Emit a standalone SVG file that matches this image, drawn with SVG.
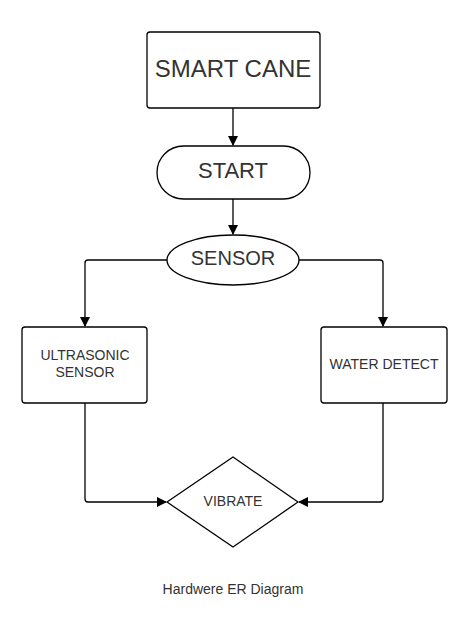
<svg xmlns="http://www.w3.org/2000/svg" width="475" height="623" viewBox="0 0 475 623">
<style>
.s{fill:#fff;stroke:#000;stroke-width:1.3}
.t{font-family:"Liberation Sans",Arial,sans-serif;fill:#333;text-anchor:middle}
.c{fill:none;stroke:#000;stroke-width:1.3}
</style>
<defs>
<marker id="a" markerWidth="10" markerHeight="10" refX="9" refY="5" orient="auto" markerUnits="userSpaceOnUse">
<path d="M0,0 L10,5 L0,10 Z" fill="#000"/>
</marker>
</defs>
<rect width="475" height="623" fill="#fff"/>
<g id="connectors">
<path class="c" d="M233,108 V145" marker-end="url(#a)"/>
<path class="c" d="M233,199 V234" marker-end="url(#a)"/>
<path class="c" d="M167,260 H88 Q85,260 85,263 V326" marker-end="url(#a)"/>
<path class="c" d="M299,260 H380 Q383,260 383,263 V326" marker-end="url(#a)"/>
<path class="c" d="M85,403 V499 Q85,502 88,502 H166" marker-end="url(#a)"/>
<path class="c" d="M383,403 V499 Q383,502 380,502 H299" marker-end="url(#a)"/>
</g>
<g id="smart-cane">
<rect class="s" x="147" y="32" width="173" height="76" rx="3"/>
<text class="t" x="233" y="76.5" font-size="24">SMART CANE</text>
</g>
<g id="start">
<rect class="s" x="157" y="146" width="153" height="53" rx="26.5"/>
<text class="t" x="233" y="178" font-size="22">START</text>
</g>
<g id="sensor">
<ellipse class="s" cx="233" cy="260" rx="66" ry="25"/>
<text class="t" x="233" y="265" font-size="20">SENSOR</text>
</g>
<g id="ultrasonic">
<rect class="s" x="22" y="327" width="125" height="76" rx="3"/>
<text class="t" x="85" y="360" font-size="14">ULTRASONIC</text>
<text class="t" x="85" y="377" font-size="14">SENSOR</text>
</g>
<g id="water">
<rect class="s" x="321" y="327" width="126" height="76" rx="3"/>
<text class="t" x="384" y="369" font-size="14">WATER DETECT</text>
</g>
<g id="vibrate">
<path class="s" d="M233,457 L298,502 L233,547 L167,502 Z" stroke-linejoin="round"/>
<text class="t" x="233" y="506" font-size="14">VIBRATE</text>
</g>
<text class="t" x="233" y="594" font-size="14">Hardwere ER Diagram</text>
</svg>
